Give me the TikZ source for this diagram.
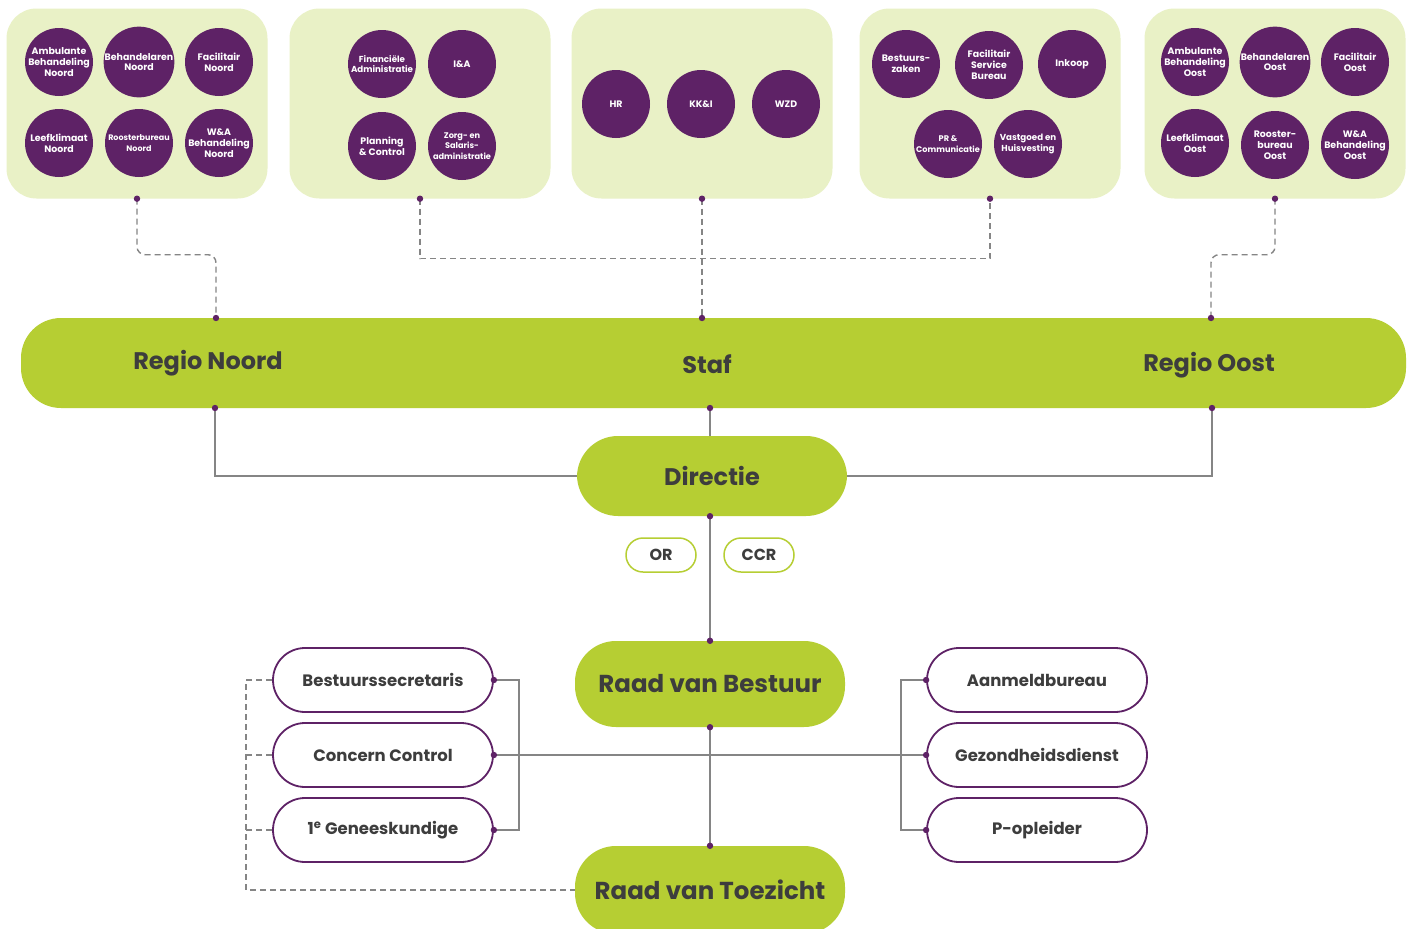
\documentclass[tikz,border=0pt]{standalone}
\usepackage{fontspec}
\setmainfont{Poppins}
\usetikzlibrary{calc}

\definecolor{lichtgroen}{HTML}{E9F1C6}
\definecolor{groen}{HTML}{B6CE33}
\definecolor{paars}{HTML}{5E2266}
\definecolor{donker}{HTML}{3D3D3D}
\definecolor{lijn}{HTML}{858585}

\tikzset{
	vlak/.style = {rectangle, fill=lichtgroen, rounded corners=30pt, minimum width=261pt, minimum height=190pt},
	afdeling/.style = {circle, fill=paars, minimum size=68pt, inner sep=0pt, text=white, align=center,
		font=\bfseries\fontsize{9.4}{10.8}\selectfont},
	balk/.style = {rectangle, fill=groen, rounded corners=40pt, minimum width=1385pt, minimum height=90pt},
	kop/.style = {text=donker, font=\bfseries\fontsize{24}{27}\selectfont},
	orgaan/.style = {rectangle, fill=groen, text=donker, minimum width=270pt, rounded corners=41pt},
	raad/.style = {rectangle, fill=white, draw=groen, line width=1.5pt, rounded corners=17pt,
		minimum width=70pt, minimum height=34pt, text=donker, font=\bfseries\fontsize{16}{18}\selectfont},
	functie/.style = {rectangle, fill=white, draw=paars, line width=1.8pt, rounded corners=32pt,
		minimum width=220pt, minimum height=64pt, text=donker, font=\bfseries\fontsize{16.5}{18}\selectfont},
	lijnstuk/.style = {draw=lijn, line width=1.8pt},
	stippel/.style = {draw=lijn, line width=1.4pt, dash pattern=on 6pt off 4pt},
}

\begin{document}
\begin{tikzpicture}[x=1pt, y=-1pt]
	\clip (0,0) rectangle (1411,929);
	\fill[white] (0,0) rectangle (1411,929);

	% bovenste vlakken
	\node[vlak] (pnoord) at (137,103.5) {};
	\node[vlak] (padmin) at (420,103.5) {};
	\node[vlak] (pstaf) at (702,103.5) {};
	\node[vlak] (pbedrijf) at (990,103.5) {};
	\node[vlak] (poost) at (1275,103.5) {};

	% regio noord
	\node[afdeling] (abn) at (59,62) {Ambulante\\Behandeling\\Noord};
	\node[afdeling] (bhn) at (139,62) {Behandelaren\\Noord};
	\node[afdeling] (fcn) at (219,62) {Facilitair\\Noord};
	\node[afdeling] (lkn) at (59,143) {Leefklimaat\\Noord};
	\node[afdeling, font=\bfseries\fontsize{8}{10.8}\selectfont] (rbn) at (139,143) {Roosterbureau\\Noord};
	\node[afdeling] (wan) at (219,143) {W\&A\\Behandeling\\Noord};

	% administratie
	\node[afdeling, font=\bfseries\fontsize{8.7}{10.8}\selectfont] (fin) at (382,64) {Financiële\\Administratie};
	\node[afdeling] (ia) at (462,64) {I\&A};
	\node[afdeling] (pc) at (382,146) {Planning\\\& Control};
	\node[afdeling, font=\bfseries\fontsize{8.2}{10.8}\selectfont] (zsa) at (462,146) {Zorg- en\\Salaris-\\administratie};

	% staf
	\node[afdeling] (hr) at (616,104) {HR};
	\node[afdeling] (kki) at (701,104) {KK\&I};
	\node[afdeling] (wzd) at (786,104) {WZD};

	% bedrijfsvoering
	\node[afdeling] (bz) at (906,64) {Bestuurs-\\zaken};
	\node[afdeling] (fsb) at (989,65) {Facilitair\\Service\\Bureau};
	\node[afdeling] (ink) at (1072,64) {Inkoop};
	\node[afdeling, font=\bfseries\fontsize{8.2}{10.8}\selectfont] (prc) at (948,144) {PR \&\\Communicatie};
	\node[afdeling, font=\bfseries\fontsize{8.7}{10.8}\selectfont] (vgh) at (1028,144) {Vastgoed en\\Huisvesting};

	% regio oost
	\node[afdeling] (abo) at (1195,62) {Ambulante\\Behandeling\\Oost};
	\node[afdeling] (bho) at (1275,62) {Behandelaren\\Oost};
	\node[afdeling] (fco) at (1355,62) {Facilitair\\Oost};
	\node[afdeling] (lko) at (1195,143) {Leefklimaat\\Oost};
	\node[afdeling] (rbo) at (1275,145) {Rooster-\\bureau\\Oost};
	\node[afdeling] (wao) at (1355,145) {W\&A\\Behandeling\\Oost};

	% balk met regio's en staf
	\node[balk] (regio) at (713.5,363) {};
	\node[kop] (noord) at (208,363) {Regio Noord};
	\node[kop] (staf) at (707,364) {Staf};
	\node[kop] (oost) at (1209,365) {Regio Oost};
	\coordinate (noordboven) at (216,318);
	\coordinate (stafboven) at (702,318);
	\coordinate (oostboven) at (1211,318);
	\coordinate (noordonder) at (215,408);
	\coordinate (stafonder) at (710,408);
	\coordinate (oostonder) at (1212,408);

	% bestuur
	\node[orgaan, minimum height=80pt, font=\bfseries\fontsize{24}{27}\selectfont] (directie) at (712,476) {Directie};
	\node[raad] (or) at (661,555) {OR};
	\node[raad] (ccr) at (759,555) {CCR};
	\node[orgaan, minimum height=86pt, font=\bfseries\fontsize{24.5}{28}\selectfont] (rvb) at (710,684) {Raad van Bestuur};
	\node[orgaan, minimum height=88pt, font=\bfseries\fontsize{24.5}{28}\selectfont] (rvt) at (710,890) {Raad van Toezicht};

	% functies links en rechts
	\node[functie] (bs) at (383,680) {Bestuurssecretaris};
	\node[functie] (cc) at (383,755) {Concern Control};
	\node[functie] (gk) at (383,830) {1\textsuperscript{e} Geneeskundige};
	\node[functie] (ab) at (1037,680) {Aanmeldbureau};
	\node[functie] (gz) at (1037,755) {Gezondheidsdienst};
	\node[functie] (po) at (1037,830) {P-opleider};

	% gestippelde lijnen
	\draw[stippel, rounded corners=8pt] (pnoord.south) -- ++(0,56) -| (noordboven);
	\draw[stippel] (padmin.south) -- ++(0,60) -| (pbedrijf.south);
	\draw[stippel] (pstaf.south) -- (stafboven);
	\draw[stippel, rounded corners=8pt] (poost.south) -- ++(0,56) -| (oostboven);
	\draw[stippel] (bs.west) -- ++(-26,0) |- (rvt.west);
	\draw[stippel] (cc.west) -- ++(-26,0);
	\draw[stippel] (gk.west) -- ++(-26,0);

	% doorgetrokken lijnen
	\draw[lijnstuk] (noordonder) |- (directie.west);
	\draw[lijnstuk] (oostonder) |- (directie.east);
	\draw[lijnstuk] (stafonder) -- (stafonder |- directie.north);
	\draw[lijnstuk] (stafonder |- directie.south) -- (rvb.north);
	\draw[lijnstuk] (rvb.south) -- (rvt.north);
	\draw[lijnstuk] (bs.east) -- ++(25,0) |- (gk.east);
	\draw[lijnstuk] (cc.east) -- (gz.west);
	\draw[lijnstuk] (ab.west) -- ++(-25,0) |- (po.west);

	% aansluitpunten
	\foreach \p in {pnoord.south, padmin.south, pstaf.south, pbedrijf.south, poost.south,
		noordboven, stafboven, oostboven, noordonder, stafonder, oostonder,
		stafonder |- directie.south, rvb.north, rvb.south, rvt.north,
		bs.east, cc.east, gk.east, ab.west, gz.west, po.west}
		\fill[paars] (\p) circle (3.2pt);
\end{tikzpicture}
\end{document}
